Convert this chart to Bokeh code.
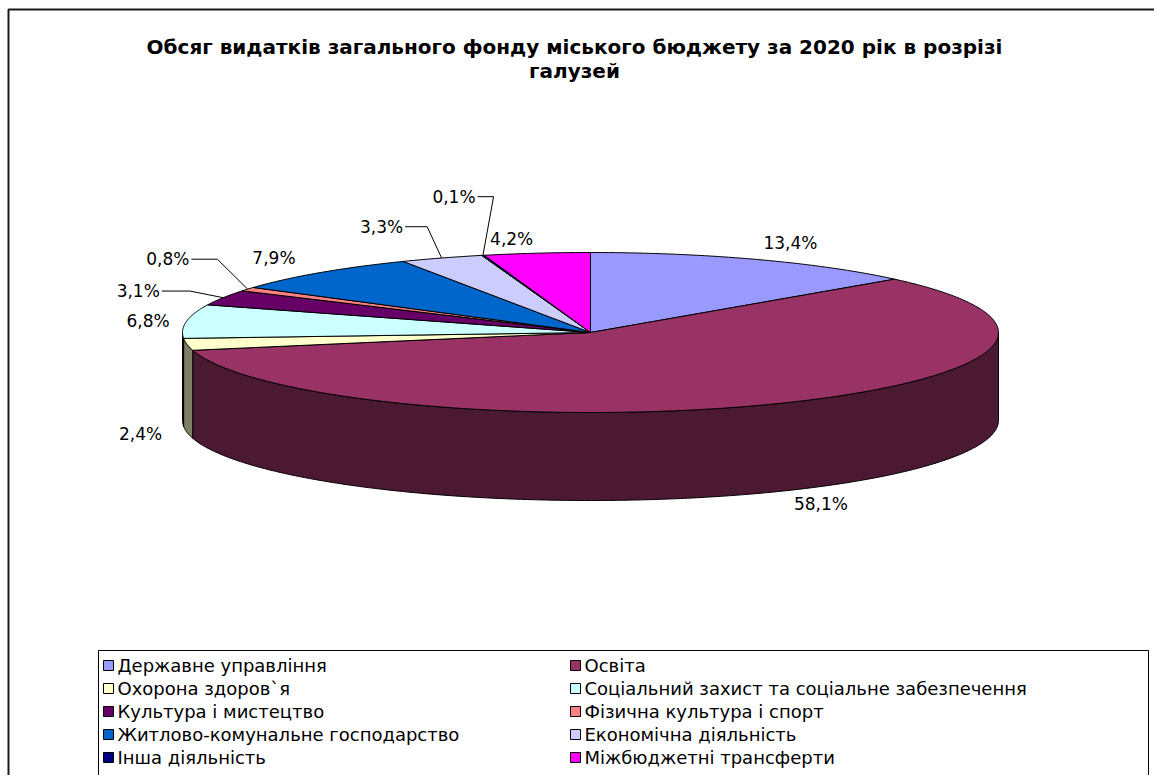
import numpy as np
from bokeh.plotting import figure
from bokeh.models import Range1d
from bokeh.core.properties import value
from bokeh.embed import file_html
from bokeh.resources import INLINE

# ---------------- data ----------------
title_lines = ["Обсяг видатків загального фонду міського бюджету за 2020 рік в розрізі",
               "галузей"]
categories = ["Державне управління", "Освіта", "Охорона здоров`я",
              "Соціальний захист та соціальне забезпечення", "Культура і мистецтво",
              "Фізична культура і спорт", "Житлово-комунальне господарство",
              "Економічна діяльність", "Інша діяльність", "Міжбюджетні трансферти"]
shares = [13.4, 58.1, 2.4, 6.8, 3.1, 0.8, 7.9, 3.3, 0.1, 4.2]
colors = ["#9999FF", "#993366", "#FFFFCC", "#CCFFFF", "#660066",
          "#FF8080", "#0066CC", "#CCCCFF", "#000080", "#FF00FF"]

# ---------------- layout / style ----------------
W, H = 1154, 775
FONT = "DejaVu Sans"
CX, CY, RA, RB, DEPTH = 590, 332, 408, 80, 88
# per-slice label placement factors (kx, ky, leader elbow length or 0)
label_layout = [(1.20, 1.22, 0), (1.23, 1.17, 0), (1.115, 1.13, 0),
                (1.095, 1.04, 0), (1.167, 1.19, 28), (1.164, 1.69, 26),
                (1.17, 1.25, 0), (1.245, 1.42, 22), (1.05, 1.76, 16),
                (1.47, 1.18, 0)]


def shade(hexc, f=0.5):
    h = hexc.lstrip("#")
    r, g, b = (int(h[i:i + 2], 16) for i in (0, 2, 4))
    return "#%02x%02x%02x" % (int(r * f), int(g * f), int(b * f))


def ex(t, k=1.0):
    return CX + RA * k * np.sin(t)


def ey(t, k=1.0):
    return CY - RB * k * np.cos(t)


p = figure(width=W, height=H, output_backend="svg", toolbar_location=None,
           x_range=Range1d(0, W), y_range=Range1d(H, 0),
           x_axis_type=None, y_axis_type=None, min_border=0,
           background_fill_color="white", border_fill_color="white")
p.grid.visible = False
p.outline_line_color = None

# outer chart frame (top and left edges visible)
p.line(x=[8, 8, W + 5], y=[H + 5, 9, 9], line_color="#1a1a1a", line_width=2)

vals = np.array(shares, dtype=float)
total = vals.sum()
ends = np.cumsum(vals) / total * 2 * np.pi
starts = np.concatenate([[0.0], ends[:-1]])

# side walls (front half only)
for s, e, c in zip(starts, ends, colors):
    lo, hi = max(s, np.pi / 2), min(e, 3 * np.pi / 2)
    if hi > lo:
        n = max(3, int(np.degrees(hi - lo) * 2))
        t = np.linspace(lo, hi, n)
        xs = np.concatenate([ex(t), ex(t[::-1])])
        ys = np.concatenate([ey(t), ey(t[::-1]) + DEPTH])
        p.patch(xs, ys, fill_color=shade(c), line_color="black", line_width=1)

# top faces
for s, e, c in zip(starts, ends, colors):
    n = max(3, int(np.degrees(e - s) * 2))
    t = np.linspace(s, e, n)
    xs = np.concatenate([[CX], ex(t)])
    ys = np.concatenate([[CY], ey(t)])
    p.patch(xs, ys, fill_color=c, line_color="black", line_width=1)

# data labels
for v, s, e, (kx, ky, elbow) in zip(shares, starts, ends, label_layout):
    txt = ("%.1f" % v).replace(".", ",") + "%"
    m = (s + e) / 2
    lx, ly = ex(m, kx), ey(m, ky)
    if np.cos(m) < 0:
        ly += DEPTH
    if elbow:
        ax, ay = ex(m), ey(m)
        p.line(x=[lx, lx + elbow, ax], y=[ly, ly, ay], line_color="black", line_width=1)
        p.text(x=[lx - 2], y=[ly], text=[txt], text_font=value(FONT),
               text_font_size="17px", text_align="right", text_baseline="middle",
               text_color="black")
    else:
        p.text(x=[lx], y=[ly], text=[txt], text_font=value(FONT),
               text_font_size="17px", text_align="center", text_baseline="middle",
               text_color="black")

# title
for i, line in enumerate(title_lines):
    p.text(x=[574], y=[46 + 24 * i], text=[line], text_font=value(FONT),
           text_font_size="20px", text_font_style="bold", text_align="center",
           text_baseline="middle", text_color="black")

# legend
LX0, LX1, LY0 = 98, 1148, 650
p.quad(left=[LX0], right=[LX1], top=[LY0], bottom=[H + 20], fill_color="white",
       line_color="black", line_width=1)
col_sq = [108, 575]
for i, (name, c) in enumerate(zip(categories, colors)):
    r, col = divmod(i, 2)
    yy = 665 + 23 * r
    p.scatter(x=[col_sq[col]], y=[yy], marker="square", size=10, fill_color=c,
              line_color="black", line_width=1)
    p.text(x=[col_sq[col] + 9], y=[yy], text=[name], text_font=value(FONT),
           text_font_size="18px", text_align="left", text_baseline="middle",
           text_color="black")

open("out.html", "w").write(file_html(p, INLINE))
